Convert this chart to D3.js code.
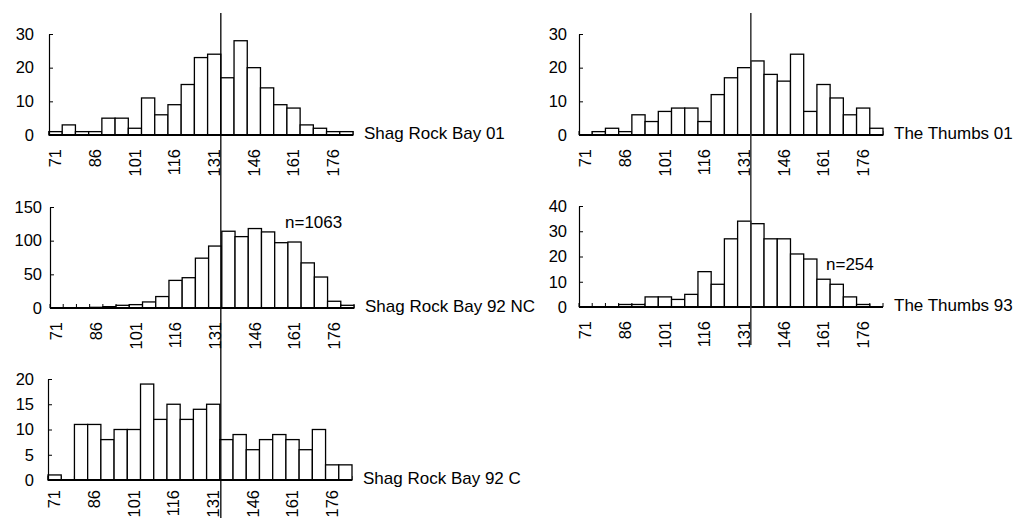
<!DOCTYPE html>
<html>
<head>
<meta charset="utf-8">
<script src="https://cdn.jsdelivr.net/npm/d3@7"></script>
<style>
  html, body { margin: 0; padding: 0; background: #fff; }
  svg { display: block; font-family: "Liberation Sans", Arial, sans-serif; }
</style>
</head>
<body>
<svg id="chart" width="1022" height="518"></svg>
<script>
// ---- data ----
const categories = [71, 76, 81, 86, 91, 96, 101, 106, 111, 116, 121, 126, 131, 136, 141, 146, 151, 156, 161, 166, 171, 176, 181];
const tickLabels = [71, 86, 101, 116, 131, 146, 161, 176];

const shagRock01   = [1, 3, 1, 1, 5, 5, 2, 11, 6, 9, 15, 23, 24, 17, 28, 20, 14, 9, 8, 3, 2, 1, 1];
const shagRock92NC = [0, 0, 0, 1, 2, 4, 5, 9, 17, 41, 45, 74, 92, 114, 106, 118, 113, 97, 98, 67, 46, 10, 4];
const shagRock92C  = [1, 0, 11, 11, 8, 10, 10, 19, 12, 15, 12, 14, 15, 8, 9, 6, 8, 9, 8, 6, 10, 3, 3];
const thumbs01     = [0, 1, 2, 1, 6, 4, 7, 8, 8, 4, 12, 17, 20, 22, 18, 16, 24, 7, 15, 11, 6, 8, 2];
const thumbs93     = [0, 0, 0, 1, 1, 4, 4, 3, 5, 14, 9, 27, 34, 33, 27, 27, 21, 19, 11, 9, 4, 1, 0];

const seriesNames = ["Shag Rock Bay 01", "Shag Rock Bay 92 NC", "Shag Rock Bay 92 C", "The Thumbs 01", "The Thumbs 93"];
const yTicksList = [[0, 10, 20, 30], [0, 50, 100, 150], [0, 5, 10, 15, 20], [0, 10, 20, 30], [0, 10, 20, 30, 40]];
const nLabels = [null, "n=1063", null, null, "n=254"];
const splitValue = 131; // vertical reference line at right edge of this bin

// ---- layout ----
const panels = [
  { values: shagRock01,   left: 49,  base: 135, pad: 15, xOff: 14, nPos: null },
  { values: shagRock92NC, left: 50,  base: 308, pad: 8,  xOff: 14, nPos: [285, 222] },
  { values: shagRock92C,  left: 48,  base: 480, pad: 14, xOff: 10, nPos: null },
  { values: thumbs01,     left: 579, base: 135, pad: 12, xOff: 14, nPos: null },
  { values: thumbs93,     left: 579, base: 307, pad: 12, xOff: 14, nPos: [826, 264] }
];
const plotW = 304, plotH = 101;

const svg = d3.select("#chart");

panels.forEach((p, i) => {
  const g = svg.append("g");
  const ticks = yTicksList[i];
  const yMax = ticks[ticks.length - 1];
  const x = d3.scaleBand().domain(categories).range([p.left, p.left + plotW]).padding(0);
  const y = d3.scaleLinear().domain([0, yMax]).range([p.base, p.base - plotH]);

  // x boundary ticks (inside, upward)
  const bounds = categories.map(c => x(c)).concat([p.left + plotW]);
  g.selectAll("line.xt").data(bounds).join("line")
    .attr("x1", d => d).attr("x2", d => d)
    .attr("y1", p.base).attr("y2", p.base - 4)
    .attr("stroke", "#000").attr("stroke-width", 1);

  // bars
  g.selectAll("rect.bar").data(p.values.map((v, k) => ({ c: categories[k], v })))
    .join("rect")
    .attr("x", d => x(d.c))
    .attr("y", d => y(d.v))
    .attr("width", x.bandwidth())
    .attr("height", d => p.base - y(d.v))
    .attr("fill", "#fff")
    .attr("stroke", "#000")
    .attr("stroke-width", 1.3)
    .attr("display", d => d.v > 0 ? null : "none");

  // y axis
  const ya = d3.axisLeft(y).tickValues(ticks).tickSizeInner(-4).tickSizeOuter(0).tickPadding(p.pad);
  const yg = g.append("g").attr("transform", `translate(${p.left},0)`).call(ya);
  yg.select(".domain").attr("stroke", "#000").attr("stroke-width", 1.2);
  yg.selectAll(".tick line").attr("stroke", "#000").attr("stroke-width", 1);
  yg.selectAll("text").attr("font-size", 16.5).attr("fill", "#000")
    .attr("font-family", "Liberation Sans, Arial, sans-serif");

  // x axis line
  g.append("line")
    .attr("x1", p.left).attr("x2", p.left + plotW)
    .attr("y1", p.base).attr("y2", p.base)
    .attr("stroke", "#000").attr("stroke-width", 2);

  // x tick labels (rotated)
  const xa = d3.axisBottom(x).tickValues(tickLabels).tickSize(0).tickPadding(0);
  const xg = g.append("g").attr("transform", `translate(0,${p.base})`).call(xa);
  xg.select(".domain").remove();
  xg.selectAll("text")
    .attr("font-size", 16.5).attr("fill", "#000")
    .attr("font-family", "Liberation Sans, Arial, sans-serif")
    .attr("transform", "rotate(-90)")
    .attr("text-anchor", "end")
    .attr("x", -p.xOff).attr("y", 0).attr("dy", "0.35em");

  // series label
  g.append("text")
    .attr("x", p.left + plotW + 11).attr("y", p.base - 2)
    .attr("dy", "0.35em")
    .attr("font-size", 17).attr("fill", "#000")
    .text(seriesNames[i]);

  if (nLabels[i]) {
    g.append("text")
      .attr("x", p.nPos[0]).attr("y", p.nPos[1]).attr("dy", "0.35em")
      .attr("font-size", 17).attr("fill", "#000")
      .text(nLabels[i]);
  }

  p.x = x;
});

// vertical reference lines
const lx = panels[0].x;
const rx = panels[3].x;
svg.append("line")
  .attr("x1", lx(splitValue) + lx.bandwidth()).attr("x2", lx(splitValue) + lx.bandwidth())
  .attr("y1", 13).attr("y2", 518)
  .attr("stroke", "#000").attr("stroke-width", 1.3);
svg.append("line")
  .attr("x1", rx(splitValue) + rx.bandwidth()).attr("x2", rx(splitValue) + rx.bandwidth())
  .attr("y1", 13).attr("y2", 345)
  .attr("stroke", "#333").attr("stroke-width", 1.5);
</script>
</body>
</html>
